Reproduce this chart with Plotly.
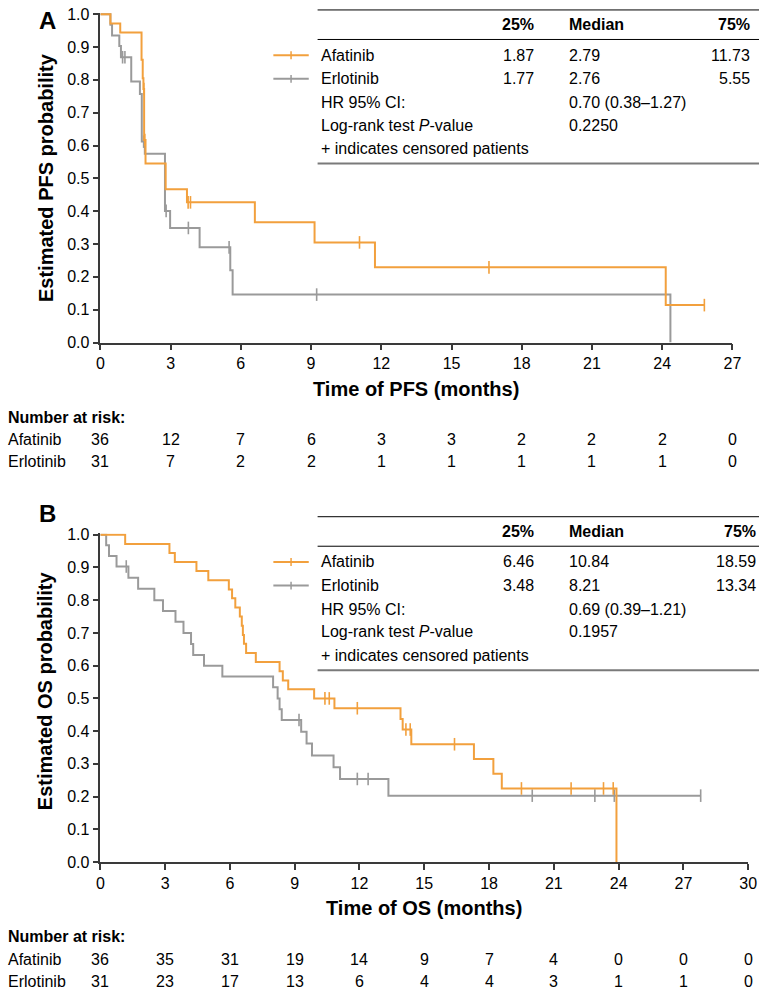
import plotly.graph_objects as go

W, H = 768, 1000
ORANGE = "#F2A03D"
GREY = "#9A9A9A"
AXIS = "#3a3a3a"
FONT = "Liberation Sans, Arial, sans-serif"

# ---- PFS (panel A) ----
pfs_afa_t = [0.43, 0.85, 1.76, 1.81, 1.84, 1.87, 1.93, 2.79, 3.70, 6.60, 9.15, 11.73, 24.15]
pfs_afa_s = [0.972, 0.944, 0.861, 0.805, 0.772, 0.617, 0.545, 0.467, 0.427, 0.366, 0.305, 0.229, 0.114]
pfs_afa_cens = [1.86, 1.90, 3.75, 3.85, 11.07, 16.6, 25.8]

pfs_erl_t = [0.43, 0.50, 0.81, 0.88, 1.32, 1.69, 1.77, 1.90, 2.76, 2.98, 4.24, 5.55, 5.65, 24.35]
pfs_erl_s = [0.968, 0.935, 0.903, 0.869, 0.795, 0.757, 0.612, 0.575, 0.401, 0.349, 0.290, 0.220, 0.146, 0.0]
pfs_erl_cens = [0.95, 1.05, 1.85, 2.81, 3.76, 5.50, 9.24]

# ---- OS (panel B) ----
os_afa_t = [1.15, 3.20, 3.45, 4.45, 5.00, 5.95, 6.10, 6.25, 6.46, 6.55, 6.60, 6.65, 6.75,
            7.20, 8.30, 8.45, 8.70, 9.90, 10.84, 13.90, 14.00, 14.40, 17.30, 18.20, 18.59, 23.90]
os_afa_s = [0.972, 0.944, 0.917, 0.889, 0.861, 0.833, 0.806, 0.778, 0.750, 0.722, 0.694, 0.667, 0.639,
            0.611, 0.583, 0.555, 0.528, 0.500, 0.470, 0.437, 0.405, 0.360, 0.315, 0.270, 0.225, 0.0]
os_afa_cens = [10.4, 10.6, 11.9, 14.15, 14.35, 16.4, 19.5, 21.8, 23.3, 23.75]

os_erl_t = [0.27, 0.40, 0.75, 1.30, 1.75, 2.50, 2.90, 3.48, 3.85, 4.20, 4.30, 4.80, 5.65,
            8.00, 8.21, 8.30, 8.40, 9.30, 9.55, 9.80, 10.80, 11.10, 13.34]
os_erl_s = [0.968, 0.935, 0.903, 0.869, 0.835, 0.800, 0.767, 0.734, 0.700, 0.666, 0.633, 0.600, 0.567,
            0.534, 0.500, 0.467, 0.434, 0.398, 0.362, 0.326, 0.290, 0.254, 0.203]
os_erl_cens = [1.2, 9.2, 11.9, 12.4, 20.0, 22.9, 23.8, 27.8]

pfs_ticks = list(range(0, 28, 3))
pfs_risk_afa = [36, 12, 7, 6, 3, 3, 2, 2, 2, 0]
pfs_risk_erl = [31, 7, 2, 2, 1, 1, 1, 1, 1, 0]
os_ticks = list(range(0, 31, 3))
os_risk_afa = [36, 35, 31, 19, 14, 9, 7, 4, 0, 0, 0]
os_risk_erl = [31, 23, 17, 13, 6, 4, 4, 3, 1, 1, 0]

pfs_table = [["Afatinib", "1.87", "2.79", "11.73"],
             ["Erlotinib", "1.77", "2.76", "5.55"]]
pfs_hr, pfs_p = "0.70 (0.38–1.27)", "0.2250"
os_table = [["Afatinib", "6.46", "10.84", "18.59"],
            ["Erlotinib", "3.48", "8.21", "13.34"]]
os_hr, os_p = "0.69 (0.39–1.21)", "0.1957"


def px(x):
    return x / W


def py(y):
    return 1 - y / H


def surv_at(times, surv, t):
    s = 1.0
    for ti, si in zip(times, surv):
        if ti <= t:
            s = si
    return s


def km_traces(times, surv, cens, color, xa, ya):
    end = max([times[-1]] + cens)
    xs = [0] + times + [end]
    ys = [1.0] + surv + [surv[-1]]
    line = go.Scatter(x=xs, y=ys, mode="lines", line=dict(color=color, width=2, shape="hv"),
                      xaxis=xa, yaxis=ya, showlegend=False, hoverinfo="skip")
    marks = go.Scatter(x=cens, y=[surv_at(times, surv, c) for c in cens], mode="markers",
                       marker=dict(symbol="line-ns", size=9, line=dict(color=color, width=1.6)),
                       xaxis=xa, yaxis=ya, showlegend=False, cliponaxis=False, hoverinfo="skip")
    return [line, marks]


fig = go.Figure()
for tr in (km_traces(pfs_erl_t, pfs_erl_s, pfs_erl_cens, GREY, "x", "y")
           + km_traces(pfs_afa_t, pfs_afa_s, pfs_afa_cens, ORANGE, "x", "y")
           + km_traces(os_erl_t, os_erl_s, os_erl_cens, GREY, "x2", "y2")
           + km_traces(os_afa_t, os_afa_s, os_afa_cens, ORANGE, "x2", "y2")):
    fig.add_trace(tr)

ax = dict(showline=True, linecolor=AXIS, linewidth=1.5, ticks="outside", ticklen=6,
          tickwidth=1.5, tickcolor=AXIS, showgrid=False, zeroline=False,
          tickfont=dict(family=FONT, size=16, color="black"))

annotations = []
shapes = []


def txt(x, y, s, size=16, anchor="left", bold=False, xref="paper", angle=0):
    annotations.append(dict(
        x=x if xref != "paper" else px(x), y=py(y), xref=xref, yref="paper",
        text=f"<b>{s}</b>" if bold else s, showarrow=False, xanchor=anchor, yanchor="middle",
        textangle=angle, font=dict(family=FONT, size=size, color="black")))


def hline(x0, x1, y, color="black", width=1):
    shapes.append(dict(type="line", xref="paper", yref="paper", x0=px(x0), x1=px(x1),
                       y0=py(y), y1=py(y), line=dict(color=color, width=width)))


def panel(top, bottom, right, right_col, letter, ytitle, xtitle, ticks, xaxis, table, hr, pval,
          risk_afa, risk_erl, letter_y):
    mid = (98 + right) / 2
    txt(44, letter_y, letter, size=24, anchor="center", bold=True)
    txt(42, (top + bottom) / 2, ytitle, size=20, anchor="center", bold=True, angle=-90)
    txt(mid, bottom + 47, xtitle, size=20, anchor="center", bold=True)
    txt(2, bottom + 76, "Number at risk:", size=16, bold=True)
    for row, (name, vals) in enumerate((("Afatinib", risk_afa), ("Erlotinib", risk_erl))):
        y = bottom + 99 + row * 22
        txt(2, y, name)
        for t, v in zip(ticks, vals):
            txt(t, y, str(v), anchor="center", xref=xaxis)
    # summary table
    t0 = top - 3
    hline(319, 768, t0)
    txt(541, t0 + 15, "25%", bold=True, anchor="right")
    txt(573, t0 + 15, "Median", bold=True)
    txt(right_col, t0 + 15, "75%", bold=True, anchor="right")
    hline(319, 768, t0 + 30)
    for i, (row, color) in enumerate(zip(table, (ORANGE, GREY))):
        y = t0 + 46 + 24 * i
        shapes.append(dict(type="line", xref="paper", yref="paper", x0=px(274), x1=px(310),
                           y0=py(y), y1=py(y), line=dict(color=color, width=2)))
        shapes.append(dict(type="line", xref="paper", yref="paper", x0=px(292), x1=px(292),
                           y0=py(y - 4), y1=py(y + 4), line=dict(color=color, width=1.5)))
        txt(320, y, row[0])
        txt(541, y, row[1], anchor="right")
        txt(573, y, row[2])
        txt(right_col, y, row[3], anchor="right")
    txt(320, t0 + 94, "HR 95% CI:")
    txt(573, t0 + 94, hr)
    txt(320, t0 + 117, "Log-rank test <i>P</i>-value")
    txt(573, t0 + 117, pval)
    txt(320, t0 + 141, "+ indicates censored patients")
    hline(319, 768, t0 + 156, color="#7a7a7a", width=2)


panel(6, 341, 741, 761, "A", "Estimated PFS probability", "Time of PFS (months)", pfs_ticks, "x",
      pfs_table, pfs_hr, pfs_p, pfs_risk_afa, pfs_risk_erl, 14)
panel(521, 869, 757, 767, "B", "Estimated OS probability", "Time of OS (months)", os_ticks, "x2",
      os_table, os_hr, os_p, os_risk_afa, os_risk_erl, 515)

fig.update_layout(
    width=W, height=H, margin=dict(l=0, r=0, t=0, b=0),
    paper_bgcolor="white", plot_bgcolor="white", showlegend=False,
    xaxis=dict(ax, domain=[px(98), px(741)], range=[0, 27], tickvals=pfs_ticks, anchor="y"),
    yaxis=dict(ax, domain=[py(341), py(6)], range=[0, 1.004], tickvals=[i / 10 for i in range(11)],
               tickformat=".1f", anchor="x"),
    xaxis2=dict(ax, domain=[px(98), px(757)], range=[0, 30], tickvals=os_ticks, anchor="y2"),
    yaxis2=dict(ax, domain=[py(869), py(535)], range=[0, 1.004], tickvals=[i / 10 for i in range(11)],
                tickformat=".1f", anchor="x2"),
    annotations=annotations, shapes=shapes,
)

# page sits flush at the top-left corner, no scrollbars, no modebar
fig.write_html("out.html", config={"displayModeBar": False},
               post_script="document.body.style.margin='0';"
                           "document.body.style.overflow='hidden';")
